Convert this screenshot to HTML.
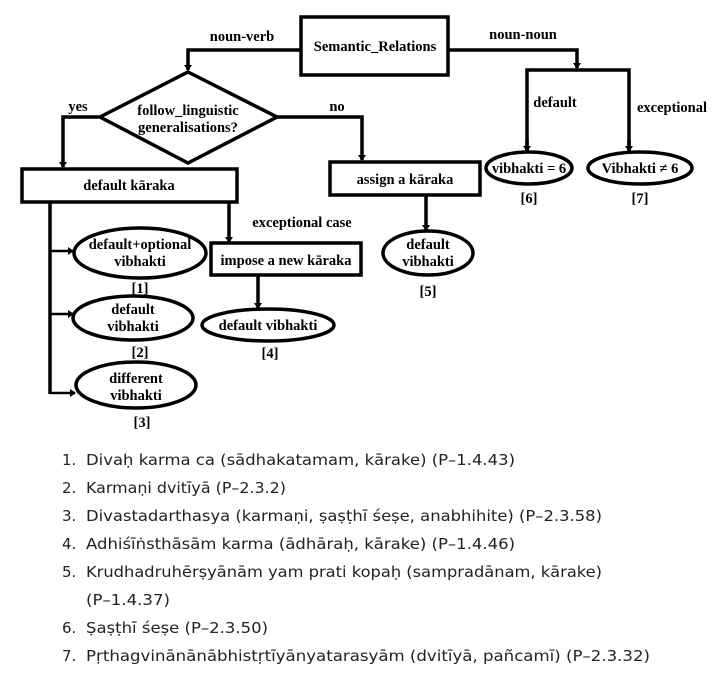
<!DOCTYPE html>
<html><head><meta charset="utf-8"><style>
html,body{margin:0;padding:0;background:#fff;width:718px;height:681px;overflow:hidden}
svg{display:block}
.d{font-family:"Liberation Serif",serif;font-weight:bold;font-size:14.5px;fill:#000}
.l{font-family:"DejaVu Sans","Liberation Sans",sans-serif;font-size:15px;fill:#222}
</style></head><body>
<svg width="718" height="681" viewBox="0 0 718 681" xmlns="http://www.w3.org/2000/svg">
<defs><marker id="a" markerWidth="6" markerHeight="8" refX="5" refY="4" orient="auto" markerUnits="userSpaceOnUse"><path d="M0,0 L6,4 L0,8 z" fill="#000"/></marker></defs>
<g fill="none" stroke="#000" stroke-width="3.5">
<rect x="301" y="17" width="147" height="58"/>
<polygon points="188,72 277,117 188,163 100,117"/>
<rect x="22" y="169" width="215" height="33"/>
<rect x="330" y="162" width="150" height="33"/>
<rect x="211" y="243" width="150" height="32"/>
<ellipse cx="428" cy="253" rx="45" ry="22"/>
<ellipse cx="529" cy="168" rx="43" ry="16"/>
<ellipse cx="640" cy="168" rx="52" ry="16"/>
<ellipse cx="140" cy="253" rx="66" ry="25"/>
<ellipse cx="133" cy="318" rx="60" ry="22"/>
<ellipse cx="136" cy="385" rx="60" ry="23"/>
<ellipse cx="268" cy="325" rx="66" ry="16"/>
</g>
<g fill="none" stroke="#000" stroke-width="3.5" stroke-linejoin="miter">
<polyline points="301,50 188,50 188,70" marker-end="url(#a)"/>
<polyline points="100,117 63,117 63,167" marker-end="url(#a)"/>
<polyline points="277,117 362,117 362,160" marker-end="url(#a)"/>
<polyline points="448,50 577,50 577,68" marker-end="url(#a)"/>
<polyline points="527,150 527,70 629,70 629,150" />
<line x1="527" y1="140" x2="527" y2="151" marker-end="url(#a)"/>
<line x1="629" y1="140" x2="629" y2="151" marker-end="url(#a)"/>
<line x1="426" y1="195" x2="426" y2="230" marker-end="url(#a)"/>
<line x1="229" y1="202" x2="229" y2="242" marker-end="url(#a)"/>
<line x1="258" y1="275" x2="258" y2="308" marker-end="url(#a)"/>
<line x1="50" y1="202" x2="50" y2="394"/>
</g>
<g fill="none" stroke="#000" stroke-width="2.5">
<line x1="50" y1="251" x2="73" y2="251" marker-end="url(#a)"/>
<line x1="50" y1="314" x2="73" y2="314" marker-end="url(#a)"/>
<line x1="50" y1="393" x2="75" y2="393" marker-end="url(#a)"/>
</g>
<g class="d" text-anchor="middle">
<text x="375" y="51">Semantic_Relations</text>
<text x="242" y="41">noun-verb</text>
<text x="523" y="39">noun-noun</text>
<text x="188" y="115">follow_linguistic</text>
<text x="188" y="132">generalisations?</text>
<text x="78" y="111">yes</text>
<text x="337" y="111">no</text>
<text x="129" y="190">default kāraka</text>
<text x="405" y="184">assign a kāraka</text>
<text x="555" y="107">default</text>
<text x="672" y="112">exceptional</text>
<text x="529" y="173">vibhakti = 6</text>
<text x="640" y="173">Vibhakti ≠ 6</text>
<text x="529" y="203">[6]</text>
<text x="640" y="203">[7]</text>
<text x="302" y="227">exceptional case</text>
<text x="286" y="265">impose a new kāraka</text>
<text x="428" y="249">default</text>
<text x="428" y="266">vibhakti</text>
<text x="428" y="296">[5]</text>
<text x="140" y="249">default+optional</text>
<text x="140" y="266">vibhakti</text>
<text x="140" y="293">[1]</text>
<text x="133" y="314">default</text>
<text x="133" y="331">vibhakti</text>
<text x="140" y="357">[2]</text>
<text x="136" y="383">different</text>
<text x="136" y="400">vibhakti</text>
<text x="142" y="427">[3]</text>
<text x="268" y="330">default vibhakti</text>
<text x="270" y="358">[4]</text>
</g>
<g class="l">
<text x="62" y="465">1.</text><text x="86" y="465" textLength="429" lengthAdjust="spacingAndGlyphs">Divaḥ karma ca (sādhakatamam, kārake) (P–1.4.43)</text>
<text x="62" y="493">2.</text><text x="86" y="493" textLength="200" lengthAdjust="spacingAndGlyphs">Karmaṇi dvitīyā (P–2.3.2)</text>
<text x="62" y="521">3.</text><text x="86" y="521" textLength="516" lengthAdjust="spacingAndGlyphs">Divastadarthasya (karmaṇi, ṣaṣṭhī śeṣe, anabhihite) (P–2.3.58)</text>
<text x="62" y="549">4.</text><text x="86" y="549" textLength="429" lengthAdjust="spacingAndGlyphs">Adhiśīṅsthāsām karma (ādhāraḥ, kārake) (P–1.4.46)</text>
<text x="62" y="577">5.</text><text x="86" y="577" textLength="516" lengthAdjust="spacingAndGlyphs">Krudhadruhērṣyānām yam prati kopaḥ (sampradānam, kārake)</text>
<text x="86" y="605" textLength="84" lengthAdjust="spacingAndGlyphs">(P–1.4.37)</text>
<text x="62" y="633">6.</text><text x="86" y="633" textLength="182" lengthAdjust="spacingAndGlyphs">Ṣaṣṭhī śeṣe (P–2.3.50)</text>
<text x="62" y="661">7.</text><text x="86" y="661" textLength="564" lengthAdjust="spacingAndGlyphs">Pṛthagvinānānābhistṛtīyānyatarasyām (dvitīyā, pañcamī) (P–2.3.32)</text>
</g>
</svg>
</body></html>
